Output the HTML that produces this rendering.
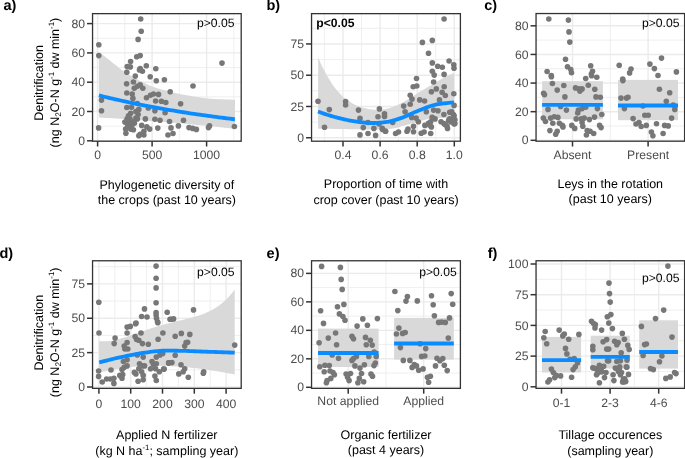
<!DOCTYPE html>
<html><head><meta charset="utf-8"><style>
html,body{margin:0;padding:0;background:#fff;}
body{width:685px;height:458px;overflow:hidden;}
svg{display:block;will-change:transform;}
text{font-family:"Liberation Sans", sans-serif;text-rendering:geometricPrecision;}
.tl{font-size:12.2px;fill:#4d4d4d;}
.ti{font-size:12.5px;fill:#000;}
.pl{font-size:14.5px;font-weight:bold;fill:#000;}
.pv{font-size:12.15px;fill:#000;}
</style></head><body>
<svg width="685" height="458" viewBox="0 0 685 458">
<g fill="#777777">
<rect x="92.55" y="13.64" width="148.65" height="127.56" fill="#fff"/>
<line x1="92.55" x2="241.2" y1="126.15" y2="126.15" stroke="#ebebeb" stroke-width="0.8"/>
<line x1="92.55" x2="241.2" y1="96.85" y2="96.85" stroke="#ebebeb" stroke-width="0.8"/>
<line x1="92.55" x2="241.2" y1="67.55" y2="67.55" stroke="#ebebeb" stroke-width="0.8"/>
<line x1="92.55" x2="241.2" y1="38.25" y2="38.25" stroke="#ebebeb" stroke-width="0.8"/>
<line y1="13.64" y2="141.2" x1="124.85" x2="124.85" stroke="#ebebeb" stroke-width="0.8"/>
<line y1="13.64" y2="141.2" x1="179.35" x2="179.35" stroke="#ebebeb" stroke-width="0.8"/>
<line y1="13.64" y2="141.2" x1="233.85" x2="233.85" stroke="#ebebeb" stroke-width="0.8"/>
<line x1="92.55" x2="241.2" y1="140.8" y2="140.8" stroke="#ebebeb" stroke-width="1.4"/>
<line x1="92.55" x2="241.2" y1="111.5" y2="111.5" stroke="#ebebeb" stroke-width="1.4"/>
<line x1="92.55" x2="241.2" y1="82.2" y2="82.2" stroke="#ebebeb" stroke-width="1.4"/>
<line x1="92.55" x2="241.2" y1="52.9" y2="52.9" stroke="#ebebeb" stroke-width="1.4"/>
<line x1="92.55" x2="241.2" y1="23.6" y2="23.6" stroke="#ebebeb" stroke-width="1.4"/>
<line y1="13.64" y2="141.2" x1="97.6" x2="97.6" stroke="#ebebeb" stroke-width="1.4"/>
<line y1="13.64" y2="141.2" x1="152.1" x2="152.1" stroke="#ebebeb" stroke-width="1.4"/>
<line y1="13.64" y2="141.2" x1="206.6" x2="206.6" stroke="#ebebeb" stroke-width="1.4"/>
<polygon points="98.9,52 99.58,52.51 100.44,53.16 101.47,53.94 102.63,54.81 103.9,55.77 105.25,56.8 106.66,57.89 108.1,59 109.6,60.19 111.19,61.49 112.87,62.88 114.61,64.32 116.41,65.78 118.25,67.23 120.12,68.65 122,70 123.93,71.31 125.94,72.63 128.01,73.94 130.1,75.23 132.19,76.48 134.26,77.69 136.27,78.83 138.2,79.9 140.05,80.89 141.84,81.82 143.58,82.69 145.29,83.51 146.99,84.28 148.68,85.02 150.38,85.72 152.1,86.4 153.83,87.04 155.55,87.63 157.26,88.17 158.98,88.68 160.71,89.17 162.45,89.65 164.21,90.12 166,90.6 167.74,91.07 169.4,91.53 171.03,91.97 172.7,92.4 174.47,92.83 176.4,93.27 178.56,93.73 181,94.2 183.77,94.72 186.84,95.27 190.13,95.85 193.58,96.44 197.13,97 200.71,97.53 204.25,98 207.7,98.4 211.27,98.72 215.12,98.98 219.09,99.19 223.02,99.36 226.74,99.5 230.08,99.61 232.89,99.71 235,99.8 235,128.86 231.51,128.47 228.02,128.09 224.53,127.71 221.04,127.34 217.55,126.97 214.06,126.61 210.57,126.26 207.08,125.9 203.59,125.56 200.1,125.22 196.61,124.88 193.12,124.55 189.63,124.22 186.14,123.9 182.65,123.58 179.16,123.27 175.67,122.97 172.18,122.67 168.69,122.37 165.21,122.08 161.72,121.79 158.23,121.51 154.74,121.24 151.25,120.97 147.76,120.7 144.27,120.44 140.78,120.19 137.29,119.94 133.8,119.69 130.31,119.45 126.82,119.22 123.33,118.99 119.84,118.76 116.35,118.54 112.86,118.33 109.37,118.12 105.88,117.91 102.39,117.71 98.9,117.52" fill="#d9d9d9"/>
<circle cx="140.7" cy="19" r="2.8"/>
<circle cx="141.2" cy="31.2" r="2.8"/>
<circle cx="138.1" cy="39.4" r="2.8"/>
<circle cx="98.8" cy="44.8" r="2.8"/>
<circle cx="98.8" cy="55.6" r="2.8"/>
<circle cx="136.7" cy="56.7" r="2.8"/>
<circle cx="140.2" cy="55.6" r="2.8"/>
<circle cx="130.6" cy="61.5" r="2.8"/>
<circle cx="127.2" cy="66.6" r="2.8"/>
<circle cx="130.3" cy="66.9" r="2.8"/>
<circle cx="146.3" cy="65.8" r="2.8"/>
<circle cx="140.2" cy="68.6" r="2.8"/>
<circle cx="142.4" cy="71.2" r="2.8"/>
<circle cx="139.5" cy="69.9" r="2.8"/>
<circle cx="155.8" cy="68.7" r="2.8"/>
<circle cx="126.8" cy="72.3" r="2.8"/>
<circle cx="135.3" cy="76.1" r="2.8"/>
<circle cx="150.2" cy="76.8" r="2.8"/>
<circle cx="164.4" cy="79.8" r="2.8"/>
<circle cx="222" cy="63.1" r="2.8"/>
<circle cx="156.3" cy="80.8" r="2.8"/>
<circle cx="126.6" cy="83.8" r="2.8"/>
<circle cx="133.4" cy="82" r="2.8"/>
<circle cx="134.3" cy="88.2" r="2.8"/>
<circle cx="137.5" cy="86.2" r="2.8"/>
<circle cx="140.2" cy="84.9" r="2.8"/>
<circle cx="142.8" cy="88.2" r="2.8"/>
<circle cx="126.8" cy="93" r="2.8"/>
<circle cx="132.2" cy="94" r="2.8"/>
<circle cx="132.9" cy="98.4" r="2.8"/>
<circle cx="146.5" cy="97.7" r="2.8"/>
<circle cx="150.5" cy="95.2" r="2.8"/>
<circle cx="153.4" cy="94" r="2.8"/>
<circle cx="158.5" cy="94.4" r="2.8"/>
<circle cx="170.2" cy="91.8" r="2.8"/>
<circle cx="101.5" cy="100.1" r="2.8"/>
<circle cx="101.5" cy="110.8" r="2.8"/>
<circle cx="155.6" cy="101" r="2.8"/>
<circle cx="161.4" cy="101.3" r="2.8"/>
<circle cx="165.8" cy="102.5" r="2.8"/>
<circle cx="137.3" cy="103.5" r="2.8"/>
<circle cx="126.8" cy="107.5" r="2.8"/>
<circle cx="131.5" cy="107.2" r="2.8"/>
<circle cx="138.8" cy="109.4" r="2.8"/>
<circle cx="148.3" cy="107.9" r="2.8"/>
<circle cx="154.9" cy="110.8" r="2.8"/>
<circle cx="165.1" cy="112.7" r="2.8"/>
<circle cx="130.7" cy="113.3" r="2.8"/>
<circle cx="128.5" cy="115.9" r="2.8"/>
<circle cx="138.1" cy="114.5" r="2.8"/>
<circle cx="135.9" cy="118.1" r="2.8"/>
<circle cx="145.4" cy="118.9" r="2.8"/>
<circle cx="154.9" cy="119.2" r="2.8"/>
<circle cx="160" cy="120.3" r="2.8"/>
<circle cx="169.5" cy="121.5" r="2.8"/>
<circle cx="124.9" cy="122.1" r="2.8"/>
<circle cx="129.3" cy="121.8" r="2.8"/>
<circle cx="133.7" cy="121.8" r="2.8"/>
<circle cx="127.8" cy="125.4" r="2.8"/>
<circle cx="132.2" cy="124.7" r="2.8"/>
<circle cx="141.7" cy="125.4" r="2.8"/>
<circle cx="146.8" cy="126.9" r="2.8"/>
<circle cx="149.7" cy="129.1" r="2.8"/>
<circle cx="98.6" cy="127.9" r="2.8"/>
<circle cx="125.6" cy="129.1" r="2.8"/>
<circle cx="133.4" cy="129.8" r="2.8"/>
<circle cx="157.8" cy="128.1" r="2.8"/>
<circle cx="171" cy="127.9" r="2.8"/>
<circle cx="125.9" cy="133.2" r="2.8"/>
<circle cx="143.9" cy="131.3" r="2.8"/>
<circle cx="140.2" cy="134.2" r="2.8"/>
<circle cx="138.8" cy="135.7" r="2.8"/>
<circle cx="143.9" cy="135" r="2.8"/>
<circle cx="168" cy="135" r="2.8"/>
<circle cx="193" cy="86" r="2.8"/>
<circle cx="180.6" cy="103.8" r="2.8"/>
<circle cx="183.5" cy="120.3" r="2.8"/>
<circle cx="178.4" cy="125.9" r="2.8"/>
<circle cx="189" cy="127.6" r="2.8"/>
<circle cx="192.7" cy="128.4" r="2.8"/>
<circle cx="196.4" cy="129.4" r="2.8"/>
<circle cx="209.5" cy="125.9" r="2.8"/>
<circle cx="208.5" cy="127.6" r="2.8"/>
<circle cx="234.4" cy="126.5" r="2.8"/>
<circle cx="173" cy="133.5" r="2.8"/>
<circle cx="135.9" cy="111.5" r="2.8"/>
<circle cx="137.3" cy="118.9" r="2.8"/>
<circle cx="134.4" cy="123.2" r="2.8"/>
<circle cx="130" cy="118.9" r="2.8"/>
<circle cx="127.1" cy="118.9" r="2.8"/>
<circle cx="130.7" cy="129.1" r="2.8"/>
<circle cx="128.5" cy="126.9" r="2.8"/>
<path d="M98.91,95.39 L101.63,96.07 L104.36,96.73 L107.08,97.39 L109.81,98.03 L112.53,98.67 L115.26,99.29 L117.98,99.91 L120.71,100.52 L123.43,101.12 L126.16,101.71 L128.88,102.29 L131.61,102.86 L134.33,103.42 L137.06,103.98 L139.78,104.53 L142.51,105.07 L145.23,105.6 L147.96,106.12 L150.68,106.64 L153.41,107.14 L156.13,107.64 L158.86,108.14 L161.58,108.62 L164.31,109.1 L167.03,109.57 L169.76,110.04 L172.48,110.49 L175.21,110.94 L177.93,111.39 L180.66,111.82 L183.38,112.25 L186.11,112.68 L188.83,113.1 L191.56,113.51 L194.28,113.91 L197.01,114.31 L199.73,114.71 L202.46,115.1 L205.18,115.48 L207.91,115.85 L210.63,116.22 L213.36,116.59 L216.08,116.95 L218.81,117.3 L221.53,117.65 L224.26,118 L226.98,118.34 L229.71,118.67 L232.43,119 L234.94,119.3" fill="none" stroke="#0a8cff" stroke-width="3.8"/>
<rect x="92.55" y="13.64" width="148.65" height="127.56" fill="none" stroke="#333333" stroke-width="1.3"/>
<line x1="87.05" x2="92.55" y1="140.8" y2="140.8" stroke="#333333" stroke-width="1.5"/>
<text x="84.95" y="144.9" text-anchor="end" class="tl">0</text>
<line x1="87.05" x2="92.55" y1="111.5" y2="111.5" stroke="#333333" stroke-width="1.5"/>
<text x="84.95" y="115.6" text-anchor="end" class="tl">20</text>
<line x1="87.05" x2="92.55" y1="82.2" y2="82.2" stroke="#333333" stroke-width="1.5"/>
<text x="84.95" y="86.3" text-anchor="end" class="tl">40</text>
<line x1="87.05" x2="92.55" y1="52.9" y2="52.9" stroke="#333333" stroke-width="1.5"/>
<text x="84.95" y="57" text-anchor="end" class="tl">60</text>
<line x1="87.05" x2="92.55" y1="23.6" y2="23.6" stroke="#333333" stroke-width="1.5"/>
<text x="84.95" y="27.7" text-anchor="end" class="tl">80</text>
<line y1="141.2" y2="146.5" x1="97.6" x2="97.6" stroke="#333333" stroke-width="1.5"/>
<text x="97.6" y="159.4" text-anchor="middle" class="tl">0</text>
<line y1="141.2" y2="146.5" x1="152.1" x2="152.1" stroke="#333333" stroke-width="1.5"/>
<text x="152.1" y="159.4" text-anchor="middle" class="tl">500</text>
<line y1="141.2" y2="146.5" x1="206.6" x2="206.6" stroke="#333333" stroke-width="1.5"/>
<text x="206.6" y="159.4" text-anchor="middle" class="tl">1000</text>
<rect x="311.55" y="13.64" width="148.85" height="127.56" fill="#fff"/>
<line x1="311.55" x2="460.4" y1="122.12" y2="122.12" stroke="#ebebeb" stroke-width="0.8"/>
<line x1="311.55" x2="460.4" y1="90.85" y2="90.85" stroke="#ebebeb" stroke-width="0.8"/>
<line x1="311.55" x2="460.4" y1="59.58" y2="59.58" stroke="#ebebeb" stroke-width="0.8"/>
<line x1="311.55" x2="460.4" y1="28.31" y2="28.31" stroke="#ebebeb" stroke-width="0.8"/>
<line y1="13.64" y2="141.2" x1="324.45" x2="324.45" stroke="#ebebeb" stroke-width="0.8"/>
<line y1="13.64" y2="141.2" x1="361.55" x2="361.55" stroke="#ebebeb" stroke-width="0.8"/>
<line y1="13.64" y2="141.2" x1="398.65" x2="398.65" stroke="#ebebeb" stroke-width="0.8"/>
<line y1="13.64" y2="141.2" x1="435.75" x2="435.75" stroke="#ebebeb" stroke-width="0.8"/>
<line x1="311.55" x2="460.4" y1="137.75" y2="137.75" stroke="#ebebeb" stroke-width="1.4"/>
<line x1="311.55" x2="460.4" y1="106.48" y2="106.48" stroke="#ebebeb" stroke-width="1.4"/>
<line x1="311.55" x2="460.4" y1="75.22" y2="75.22" stroke="#ebebeb" stroke-width="1.4"/>
<line x1="311.55" x2="460.4" y1="43.95" y2="43.95" stroke="#ebebeb" stroke-width="1.4"/>
<line y1="13.64" y2="141.2" x1="343" x2="343" stroke="#ebebeb" stroke-width="1.4"/>
<line y1="13.64" y2="141.2" x1="380.1" x2="380.1" stroke="#ebebeb" stroke-width="1.4"/>
<line y1="13.64" y2="141.2" x1="417.2" x2="417.2" stroke="#ebebeb" stroke-width="1.4"/>
<line y1="13.64" y2="141.2" x1="454.3" x2="454.3" stroke="#ebebeb" stroke-width="1.4"/>
<polygon points="318.2,57.2 318.49,57.89 318.86,58.8 319.3,59.89 319.8,61.1 320.34,62.39 320.91,63.72 321.5,65.04 322.1,66.3 322.72,67.55 323.38,68.84 324.08,70.17 324.79,71.51 325.53,72.85 326.26,74.17 326.99,75.46 327.7,76.7 328.4,77.91 329.1,79.1 329.8,80.28 330.51,81.44 331.21,82.56 331.91,83.65 332.6,84.7 333.3,85.7 333.99,86.65 334.68,87.54 335.37,88.39 336.05,89.21 336.73,90 337.42,90.78 338.11,91.54 338.8,92.3 339.46,93.04 340.06,93.74 340.65,94.41 341.25,95.07 341.89,95.73 342.61,96.42 343.44,97.14 344.4,97.9 345.52,98.74 346.79,99.65 348.16,100.61 349.6,101.58 351.09,102.53 352.59,103.44 354.07,104.27 355.5,105 356.9,105.63 358.3,106.2 359.7,106.71 361.1,107.16 362.5,107.57 363.9,107.94 365.3,108.28 366.7,108.6 368.1,108.89 369.51,109.15 370.91,109.38 372.32,109.57 373.72,109.72 375.1,109.83 376.46,109.89 377.8,109.9 379.13,109.85 380.45,109.75 381.76,109.59 383.06,109.39 384.32,109.17 385.56,108.92 386.75,108.66 387.9,108.4 388.98,108.14 390.01,107.86 390.99,107.56 391.94,107.25 392.87,106.92 393.8,106.57 394.74,106.19 395.7,105.8 396.68,105.38 397.67,104.93 398.66,104.46 399.65,103.97 400.64,103.47 401.63,102.95 402.62,102.43 403.6,101.9 404.58,101.36 405.55,100.81 406.53,100.25 407.5,99.68 408.47,99.1 409.45,98.51 410.42,97.91 411.4,97.3 412.38,96.67 413.37,96.03 414.36,95.37 415.35,94.7 416.34,94.03 417.33,93.37 418.32,92.73 419.3,92.1 420.28,91.5 421.25,90.91 422.23,90.33 423.2,89.76 424.17,89.2 425.15,88.64 426.12,88.07 427.1,87.5 428.08,86.92 429.07,86.35 430.06,85.78 431.05,85.2 432.04,84.62 433.03,84.05 434.02,83.48 435,82.9 435.96,82.33 436.88,81.77 437.78,81.21 438.69,80.65 439.63,80.08 440.61,79.51 441.66,78.91 442.8,78.3 444.11,77.63 445.62,76.88 447.24,76.1 448.89,75.31 450.47,74.56 451.91,73.89 453.11,73.32 454,72.9 454,118.4 453.11,118.37 451.91,118.32 450.47,118.26 448.89,118.19 447.24,118.13 445.62,118.07 444.11,118.03 442.8,118 441.66,117.98 440.61,117.97 439.63,117.96 438.69,117.96 437.78,117.97 436.88,117.99 435.96,118.04 435,118.1 434.02,118.18 433.03,118.28 432.04,118.4 431.05,118.53 430.06,118.67 429.07,118.83 428.08,119.01 427.1,119.2 426.12,119.41 425.15,119.64 424.17,119.89 423.2,120.15 422.23,120.42 421.25,120.69 420.28,120.97 419.3,121.25 418.32,121.53 417.34,121.81 416.37,122.1 415.39,122.4 414.4,122.7 413.41,123 412.41,123.3 411.4,123.6 410.37,123.9 409.33,124.21 408.27,124.53 407.21,124.84 406.14,125.16 405.08,125.46 404.03,125.76 403,126.05 401.96,126.33 400.91,126.62 399.86,126.9 398.82,127.18 397.8,127.44 396.81,127.68 395.88,127.91 395,128.1 394.22,128.26 393.54,128.39 392.93,128.5 392.34,128.59 391.75,128.67 391.1,128.74 390.36,128.82 389.5,128.9 388.51,128.99 387.42,129.08 386.25,129.16 385.03,129.24 383.77,129.32 382.5,129.39 381.24,129.45 380,129.5 378.79,129.54 377.61,129.57 376.42,129.59 375.22,129.61 373.99,129.61 372.72,129.61 371.4,129.61 370,129.6 368.55,129.58 367.05,129.55 365.52,129.52 363.94,129.47 362.3,129.43 360.6,129.38 358.84,129.34 357,129.3 355.1,129.26 353.15,129.23 351.14,129.19 349.06,129.16 346.92,129.12 344.7,129.08 342.39,129.04 340,129 337.34,128.95 334.34,128.9 331.15,128.84 327.94,128.78 324.86,128.73 322.07,128.67 319.73,128.63 318,128.6" fill="#d9d9d9"/>
<circle cx="444.1" cy="19" r="2.8"/>
<circle cx="422.4" cy="42.4" r="2.8"/>
<circle cx="432.3" cy="40.4" r="2.8"/>
<circle cx="428.5" cy="53.3" r="2.8"/>
<circle cx="449.1" cy="61" r="2.8"/>
<circle cx="432.3" cy="62.9" r="2.8"/>
<circle cx="437.7" cy="66.2" r="2.8"/>
<circle cx="442.3" cy="67.2" r="2.8"/>
<circle cx="453.8" cy="64.8" r="2.8"/>
<circle cx="454" cy="68.3" r="2.8"/>
<circle cx="432.3" cy="71.2" r="2.8"/>
<circle cx="434.2" cy="75.1" r="2.8"/>
<circle cx="444.1" cy="74.4" r="2.8"/>
<circle cx="416.5" cy="78.5" r="2.8"/>
<circle cx="318" cy="101.3" r="2.8"/>
<circle cx="329.3" cy="109.6" r="2.8"/>
<circle cx="345.6" cy="101.6" r="2.8"/>
<circle cx="345.6" cy="105" r="2.8"/>
<circle cx="324.5" cy="127.3" r="2.8"/>
<circle cx="358.5" cy="110.1" r="2.8"/>
<circle cx="360" cy="118.4" r="2.8"/>
<circle cx="363.3" cy="127.6" r="2.8"/>
<circle cx="360" cy="134.9" r="2.8"/>
<circle cx="368" cy="133.5" r="2.8"/>
<circle cx="368" cy="122.5" r="2.8"/>
<circle cx="373.9" cy="128.4" r="2.8"/>
<circle cx="375.6" cy="135.4" r="2.8"/>
<circle cx="379.4" cy="108.9" r="2.8"/>
<circle cx="378" cy="116.7" r="2.8"/>
<circle cx="384.5" cy="113.7" r="2.8"/>
<circle cx="384.5" cy="116.4" r="2.8"/>
<circle cx="379" cy="124" r="2.8"/>
<circle cx="382.6" cy="129.4" r="2.8"/>
<circle cx="385.6" cy="131.3" r="2.8"/>
<circle cx="413.2" cy="86.7" r="2.8"/>
<circle cx="416.8" cy="86" r="2.8"/>
<circle cx="433.6" cy="82" r="2.8"/>
<circle cx="436.3" cy="88.9" r="2.8"/>
<circle cx="431.4" cy="91.8" r="2.8"/>
<circle cx="444.2" cy="86.7" r="2.8"/>
<circle cx="442.1" cy="92.3" r="2.8"/>
<circle cx="445.3" cy="95.5" r="2.8"/>
<circle cx="453.8" cy="93.7" r="2.8"/>
<circle cx="410.2" cy="95.2" r="2.8"/>
<circle cx="412" cy="99.1" r="2.8"/>
<circle cx="419.7" cy="99.9" r="2.8"/>
<circle cx="424.6" cy="101" r="2.8"/>
<circle cx="410.2" cy="104.2" r="2.8"/>
<circle cx="403.7" cy="106.1" r="2.8"/>
<circle cx="439.5" cy="99.9" r="2.8"/>
<circle cx="454.1" cy="105.4" r="2.8"/>
<circle cx="405.1" cy="111.8" r="2.8"/>
<circle cx="426.3" cy="111.8" r="2.8"/>
<circle cx="433.6" cy="110.1" r="2.8"/>
<circle cx="438" cy="110.8" r="2.8"/>
<circle cx="443.9" cy="114.5" r="2.8"/>
<circle cx="449.7" cy="112.3" r="2.8"/>
<circle cx="453.4" cy="114.5" r="2.8"/>
<circle cx="411.7" cy="117.4" r="2.8"/>
<circle cx="416.1" cy="118.1" r="2.8"/>
<circle cx="432.2" cy="117.4" r="2.8"/>
<circle cx="435.1" cy="118.9" r="2.8"/>
<circle cx="418.3" cy="121.8" r="2.8"/>
<circle cx="430.7" cy="121.8" r="2.8"/>
<circle cx="441" cy="121.8" r="2.8"/>
<circle cx="449.7" cy="118.9" r="2.8"/>
<circle cx="453.4" cy="120.3" r="2.8"/>
<circle cx="392.7" cy="122.5" r="2.8"/>
<circle cx="454.1" cy="124" r="2.8"/>
<circle cx="424.9" cy="125.4" r="2.8"/>
<circle cx="428.5" cy="123.2" r="2.8"/>
<circle cx="413.5" cy="126.2" r="2.8"/>
<circle cx="431.4" cy="126.9" r="2.8"/>
<circle cx="445.3" cy="124.7" r="2.8"/>
<circle cx="447.5" cy="128.4" r="2.8"/>
<circle cx="408" cy="129.1" r="2.8"/>
<circle cx="407" cy="131.3" r="2.8"/>
<circle cx="413.5" cy="131.7" r="2.8"/>
<circle cx="385.4" cy="131.3" r="2.8"/>
<circle cx="395.6" cy="133.5" r="2.8"/>
<circle cx="398.5" cy="132" r="2.8"/>
<circle cx="421.2" cy="133.2" r="2.8"/>
<circle cx="424.1" cy="132" r="2.8"/>
<circle cx="430.7" cy="133.5" r="2.8"/>
<circle cx="382.2" cy="128.4" r="2.8"/>
<circle cx="451.7" cy="111.8" r="2.8"/>
<circle cx="454.1" cy="115.7" r="2.8"/>
<circle cx="454.9" cy="119.7" r="2.8"/>
<circle cx="451" cy="122" r="2.8"/>
<circle cx="448.6" cy="120.4" r="2.8"/>
<circle cx="443.9" cy="123.6" r="2.8"/>
<circle cx="447" cy="126" r="2.8"/>
<circle cx="454.9" cy="123.6" r="2.8"/>
<circle cx="429.7" cy="125.2" r="2.8"/>
<path d="M318,111.5 L318.7,111.75 L319.6,112.09 L320.68,112.49 L321.89,112.94 L323.19,113.41 L324.55,113.89 L325.94,114.36 L327.3,114.8 L328.69,115.22 L330.14,115.66 L331.66,116.1 L333.21,116.54 L334.79,116.97 L336.38,117.4 L337.95,117.81 L339.5,118.2 L341.03,118.58 L342.56,118.95 L344.1,119.31 L345.63,119.66 L347.17,119.99 L348.71,120.31 L350.25,120.62 L351.8,120.9 L353.38,121.17 L354.99,121.43 L356.62,121.67 L358.24,121.89 L359.85,122.1 L361.4,122.29 L362.89,122.46 L364.3,122.6 L365.61,122.72 L366.83,122.81 L367.99,122.89 L369.11,122.94 L370.2,122.98 L371.28,123 L372.37,123.01 L373.5,123 L374.66,122.98 L375.82,122.94 L376.99,122.88 L378.16,122.81 L379.32,122.72 L380.46,122.62 L381.59,122.52 L382.7,122.4 L383.76,122.29 L384.77,122.18 L385.75,122.06 L386.72,121.93 L387.71,121.78 L388.74,121.6 L389.83,121.37 L391,121.1 L392.26,120.78 L393.59,120.42 L394.98,120.03 L396.41,119.6 L397.86,119.14 L399.34,118.65 L400.82,118.14 L402.3,117.6 L403.78,117.02 L405.28,116.39 L406.8,115.73 L408.34,115.04 L409.88,114.34 L411.42,113.64 L412.96,112.96 L414.5,112.3 L416.07,111.65 L417.69,110.99 L419.33,110.32 L420.96,109.67 L422.56,109.04 L424.08,108.44 L425.51,107.89 L426.8,107.4 L427.94,106.97 L428.94,106.6 L429.84,106.27 L430.67,105.98 L431.47,105.72 L432.26,105.47 L433.1,105.24 L434,105 L434.93,104.78 L435.85,104.58 L436.77,104.4 L437.7,104.23 L438.67,104.07 L439.7,103.92 L440.8,103.76 L442,103.6 L443.39,103.42 L445,103.24 L446.73,103.05 L448.5,102.86 L450.2,102.69 L451.75,102.53 L453.05,102.4 L454,102.3" fill="none" stroke="#0a8cff" stroke-width="3.8"/>
<rect x="311.55" y="13.64" width="148.85" height="127.56" fill="none" stroke="#333333" stroke-width="1.3"/>
<line x1="306.05" x2="311.55" y1="137.75" y2="137.75" stroke="#333333" stroke-width="1.5"/>
<text x="303.95" y="141.85" text-anchor="end" class="tl">0</text>
<line x1="306.05" x2="311.55" y1="106.48" y2="106.48" stroke="#333333" stroke-width="1.5"/>
<text x="303.95" y="110.58" text-anchor="end" class="tl">25</text>
<line x1="306.05" x2="311.55" y1="75.22" y2="75.22" stroke="#333333" stroke-width="1.5"/>
<text x="303.95" y="79.31" text-anchor="end" class="tl">50</text>
<line x1="306.05" x2="311.55" y1="43.95" y2="43.95" stroke="#333333" stroke-width="1.5"/>
<text x="303.95" y="48.05" text-anchor="end" class="tl">75</text>
<line y1="141.2" y2="146.5" x1="343" x2="343" stroke="#333333" stroke-width="1.5"/>
<text x="343" y="159.4" text-anchor="middle" class="tl">0.4</text>
<line y1="141.2" y2="146.5" x1="380.1" x2="380.1" stroke="#333333" stroke-width="1.5"/>
<text x="380.1" y="159.4" text-anchor="middle" class="tl">0.6</text>
<line y1="141.2" y2="146.5" x1="417.2" x2="417.2" stroke="#333333" stroke-width="1.5"/>
<text x="417.2" y="159.4" text-anchor="middle" class="tl">0.8</text>
<line y1="141.2" y2="146.5" x1="454.3" x2="454.3" stroke="#333333" stroke-width="1.5"/>
<text x="454.3" y="159.4" text-anchor="middle" class="tl">1.0</text>
<rect x="536.05" y="13.54" width="148.55" height="127.66" fill="#fff"/>
<line x1="536.05" x2="684.6" y1="125.99" y2="125.99" stroke="#ebebeb" stroke-width="0.8"/>
<line x1="536.05" x2="684.6" y1="97.37" y2="97.37" stroke="#ebebeb" stroke-width="0.8"/>
<line x1="536.05" x2="684.6" y1="68.75" y2="68.75" stroke="#ebebeb" stroke-width="0.8"/>
<line x1="536.05" x2="684.6" y1="40.13" y2="40.13" stroke="#ebebeb" stroke-width="0.8"/>
<line y1="13.54" y2="141.2" x1="610.3" x2="610.3" stroke="#ebebeb" stroke-width="0.8"/>
<line x1="536.05" x2="684.6" y1="140.3" y2="140.3" stroke="#ebebeb" stroke-width="1.4"/>
<line x1="536.05" x2="684.6" y1="111.68" y2="111.68" stroke="#ebebeb" stroke-width="1.4"/>
<line x1="536.05" x2="684.6" y1="83.06" y2="83.06" stroke="#ebebeb" stroke-width="1.4"/>
<line x1="536.05" x2="684.6" y1="54.44" y2="54.44" stroke="#ebebeb" stroke-width="1.4"/>
<line x1="536.05" x2="684.6" y1="25.82" y2="25.82" stroke="#ebebeb" stroke-width="1.4"/>
<line y1="13.54" y2="141.2" x1="572.5" x2="572.5" stroke="#ebebeb" stroke-width="1.4"/>
<line y1="13.54" y2="141.2" x1="648.1" x2="648.1" stroke="#ebebeb" stroke-width="1.4"/>
<rect x="542.1" y="81.2" width="60.8" height="38.1" fill="#d9d9d9"/>
<rect x="618" y="79.9" width="60" height="40.3" fill="#d9d9d9"/>
<circle cx="548.8" cy="19" r="2.8"/>
<circle cx="568.4" cy="20.1" r="2.8"/>
<circle cx="569" cy="31.9" r="2.8"/>
<circle cx="569.8" cy="42.1" r="2.8"/>
<circle cx="565.5" cy="59.2" r="2.8"/>
<circle cx="567.5" cy="66.7" r="2.8"/>
<circle cx="570.8" cy="69.5" r="2.8"/>
<circle cx="571.5" cy="72.7" r="2.8"/>
<circle cx="547.1" cy="71.5" r="2.8"/>
<circle cx="551.3" cy="75.5" r="2.8"/>
<circle cx="590.7" cy="65.8" r="2.8"/>
<circle cx="592.5" cy="71.2" r="2.8"/>
<circle cx="591.4" cy="74.1" r="2.8"/>
<circle cx="596.8" cy="77.2" r="2.8"/>
<circle cx="551.4" cy="76.8" r="2.8"/>
<circle cx="552.4" cy="83.5" r="2.8"/>
<circle cx="563.8" cy="85.5" r="2.8"/>
<circle cx="557.2" cy="90.1" r="2.8"/>
<circle cx="543.6" cy="93.3" r="2.8"/>
<circle cx="544.5" cy="94.7" r="2.8"/>
<circle cx="564.9" cy="96.9" r="2.8"/>
<circle cx="575.5" cy="87.9" r="2.8"/>
<circle cx="579.1" cy="88.9" r="2.8"/>
<circle cx="582.1" cy="88.9" r="2.8"/>
<circle cx="579.9" cy="91.1" r="2.8"/>
<circle cx="585.7" cy="78.5" r="2.8"/>
<circle cx="591.6" cy="75.8" r="2.8"/>
<circle cx="588.3" cy="85.2" r="2.8"/>
<circle cx="594.8" cy="89.3" r="2.8"/>
<circle cx="596" cy="96.9" r="2.8"/>
<circle cx="600.3" cy="97.2" r="2.8"/>
<circle cx="548" cy="109.4" r="2.8"/>
<circle cx="560.6" cy="106.4" r="2.8"/>
<circle cx="566.4" cy="110.1" r="2.8"/>
<circle cx="578.4" cy="110.1" r="2.8"/>
<circle cx="582.1" cy="108.6" r="2.8"/>
<circle cx="585.7" cy="107.2" r="2.8"/>
<circle cx="597.4" cy="108.6" r="2.8"/>
<circle cx="577.7" cy="113" r="2.8"/>
<circle cx="601.8" cy="114.5" r="2.8"/>
<circle cx="543.3" cy="118.1" r="2.8"/>
<circle cx="545.5" cy="121.5" r="2.8"/>
<circle cx="550.6" cy="118.1" r="2.8"/>
<circle cx="554.3" cy="116.7" r="2.8"/>
<circle cx="557.9" cy="117.4" r="2.8"/>
<circle cx="552.8" cy="123.2" r="2.8"/>
<circle cx="559.4" cy="123.2" r="2.8"/>
<circle cx="562.3" cy="125.4" r="2.8"/>
<circle cx="563" cy="126.9" r="2.8"/>
<circle cx="576.2" cy="118.9" r="2.8"/>
<circle cx="581.3" cy="118.9" r="2.8"/>
<circle cx="584.2" cy="118.1" r="2.8"/>
<circle cx="589.4" cy="119.6" r="2.8"/>
<circle cx="594.5" cy="117.1" r="2.8"/>
<circle cx="582.1" cy="122.5" r="2.8"/>
<circle cx="582.8" cy="126.2" r="2.8"/>
<circle cx="571.8" cy="125.4" r="2.8"/>
<circle cx="574.7" cy="128.4" r="2.8"/>
<circle cx="599.6" cy="125.4" r="2.8"/>
<circle cx="601.1" cy="127.6" r="2.8"/>
<circle cx="549.9" cy="130.6" r="2.8"/>
<circle cx="557.2" cy="131.3" r="2.8"/>
<circle cx="555.7" cy="134.2" r="2.8"/>
<circle cx="587.2" cy="130.6" r="2.8"/>
<circle cx="590.1" cy="131.3" r="2.8"/>
<circle cx="593.7" cy="133.5" r="2.8"/>
<circle cx="586.4" cy="135" r="2.8"/>
<circle cx="619.2" cy="65.2" r="2.8"/>
<circle cx="631" cy="69" r="2.8"/>
<circle cx="629.6" cy="72.9" r="2.8"/>
<circle cx="649.9" cy="64.1" r="2.8"/>
<circle cx="661.5" cy="58.1" r="2.8"/>
<circle cx="654.4" cy="68.6" r="2.8"/>
<circle cx="658" cy="75.5" r="2.8"/>
<circle cx="676.4" cy="71.9" r="2.8"/>
<circle cx="622.7" cy="79" r="2.8"/>
<circle cx="622.9" cy="80.6" r="2.8"/>
<circle cx="659.4" cy="89.2" r="2.8"/>
<circle cx="669.7" cy="92.8" r="2.8"/>
<circle cx="621" cy="98.1" r="2.8"/>
<circle cx="626.5" cy="98.1" r="2.8"/>
<circle cx="628" cy="97.2" r="2.8"/>
<circle cx="666.3" cy="101.3" r="2.8"/>
<circle cx="673.3" cy="105" r="2.8"/>
<circle cx="674.8" cy="109.4" r="2.8"/>
<circle cx="642.9" cy="106" r="2.8"/>
<circle cx="624.4" cy="108.6" r="2.8"/>
<circle cx="644.8" cy="115.2" r="2.8"/>
<circle cx="648.2" cy="115.2" r="2.8"/>
<circle cx="671.6" cy="118.1" r="2.8"/>
<circle cx="633.1" cy="118.6" r="2.8"/>
<circle cx="636" cy="124" r="2.8"/>
<circle cx="639" cy="122.5" r="2.8"/>
<circle cx="641.2" cy="126.5" r="2.8"/>
<circle cx="646.3" cy="125.4" r="2.8"/>
<circle cx="656.5" cy="123.7" r="2.8"/>
<circle cx="664.6" cy="125.4" r="2.8"/>
<circle cx="668.2" cy="125.9" r="2.8"/>
<circle cx="651.4" cy="132" r="2.8"/>
<circle cx="652.9" cy="135.7" r="2.8"/>
<circle cx="663.1" cy="133.5" r="2.8"/>
<line x1="542.1" x2="602.9" y1="104.9" y2="104.9" stroke="#0a8cff" stroke-width="3.8"/>
<line x1="618" x2="678" y1="105.5" y2="105.5" stroke="#0a8cff" stroke-width="3.8"/>
<rect x="536.05" y="13.54" width="148.55" height="127.66" fill="none" stroke="#333333" stroke-width="1.3"/>
<line x1="530.55" x2="536.05" y1="140.3" y2="140.3" stroke="#333333" stroke-width="1.5"/>
<text x="528.45" y="144.4" text-anchor="end" class="tl">0</text>
<line x1="530.55" x2="536.05" y1="111.68" y2="111.68" stroke="#333333" stroke-width="1.5"/>
<text x="528.45" y="115.78" text-anchor="end" class="tl">20</text>
<line x1="530.55" x2="536.05" y1="83.06" y2="83.06" stroke="#333333" stroke-width="1.5"/>
<text x="528.45" y="87.16" text-anchor="end" class="tl">40</text>
<line x1="530.55" x2="536.05" y1="54.44" y2="54.44" stroke="#333333" stroke-width="1.5"/>
<text x="528.45" y="58.54" text-anchor="end" class="tl">60</text>
<line x1="530.55" x2="536.05" y1="25.82" y2="25.82" stroke="#333333" stroke-width="1.5"/>
<text x="528.45" y="29.92" text-anchor="end" class="tl">80</text>
<line y1="141.2" y2="146.5" x1="572.5" x2="572.5" stroke="#333333" stroke-width="1.5"/>
<text x="572.5" y="159.4" text-anchor="middle" class="tl">Absent</text>
<line y1="141.2" y2="146.5" x1="648.1" x2="648.1" stroke="#333333" stroke-width="1.5"/>
<text x="648.1" y="159.4" text-anchor="middle" class="tl">Present</text>
<rect x="92.55" y="260.77" width="148.65" height="127.59" fill="#fff"/>
<line x1="92.55" x2="241.2" y1="369.81" y2="369.81" stroke="#ebebeb" stroke-width="0.8"/>
<line x1="92.55" x2="241.2" y1="335.44" y2="335.44" stroke="#ebebeb" stroke-width="0.8"/>
<line x1="92.55" x2="241.2" y1="301.06" y2="301.06" stroke="#ebebeb" stroke-width="0.8"/>
<line x1="92.55" x2="241.2" y1="266.69" y2="266.69" stroke="#ebebeb" stroke-width="0.8"/>
<line y1="260.77" y2="388.36" x1="114.8" x2="114.8" stroke="#ebebeb" stroke-width="0.8"/>
<line y1="260.77" y2="388.36" x1="146.6" x2="146.6" stroke="#ebebeb" stroke-width="0.8"/>
<line y1="260.77" y2="388.36" x1="178.4" x2="178.4" stroke="#ebebeb" stroke-width="0.8"/>
<line y1="260.77" y2="388.36" x1="210.2" x2="210.2" stroke="#ebebeb" stroke-width="0.8"/>
<line x1="92.55" x2="241.2" y1="387" y2="387" stroke="#ebebeb" stroke-width="1.4"/>
<line x1="92.55" x2="241.2" y1="352.62" y2="352.62" stroke="#ebebeb" stroke-width="1.4"/>
<line x1="92.55" x2="241.2" y1="318.25" y2="318.25" stroke="#ebebeb" stroke-width="1.4"/>
<line x1="92.55" x2="241.2" y1="283.88" y2="283.88" stroke="#ebebeb" stroke-width="1.4"/>
<line y1="260.77" y2="388.36" x1="98.9" x2="98.9" stroke="#ebebeb" stroke-width="1.4"/>
<line y1="260.77" y2="388.36" x1="130.7" x2="130.7" stroke="#ebebeb" stroke-width="1.4"/>
<line y1="260.77" y2="388.36" x1="162.5" x2="162.5" stroke="#ebebeb" stroke-width="1.4"/>
<line y1="260.77" y2="388.36" x1="194.3" x2="194.3" stroke="#ebebeb" stroke-width="1.4"/>
<line y1="260.77" y2="388.36" x1="226.1" x2="226.1" stroke="#ebebeb" stroke-width="1.4"/>
<polygon points="99,341.13 102.48,341.36 105.96,341.28 109.44,340.94 112.92,340.38 116.4,339.64 119.88,338.75 123.36,337.74 126.84,336.64 130.32,335.48 133.79,334.28 137.27,333.06 140.75,331.84 144.23,330.63 147.71,329.45 151.19,328.31 154.67,327.21 158.15,326.15 161.63,325.15 165.11,324.19 168.59,323.28 172.07,322.41 175.55,321.57 179.03,320.75 182.51,319.92 185.99,319.09 189.47,318.22 192.95,317.29 196.43,316.28 199.91,315.16 203.38,313.89 206.86,312.46 210.34,310.81 213.82,308.91 217.3,306.72 220.78,304.2 224.26,301.29 227.74,297.95 231.22,294.12 234.7,289.76 234.7,374.46 231.22,373.8 227.74,373.16 224.26,372.53 220.78,371.93 217.3,371.34 213.82,370.78 210.34,370.24 206.86,369.72 203.38,369.23 199.91,368.77 196.43,368.33 192.95,367.93 189.47,367.55 185.99,367.21 182.51,366.9 179.03,366.62 175.55,366.38 172.07,366.18 168.59,366.02 165.11,365.89 161.63,365.81 158.15,365.76 154.67,365.76 151.19,365.81 147.71,365.9 144.23,366.03 140.75,366.22 137.27,366.45 133.79,366.73 130.32,367.07 126.84,367.46 123.36,367.9 119.88,368.4 116.4,368.95 112.92,369.57 109.44,370.24 105.96,370.97 102.48,371.76 99,372.62" fill="#d9d9d9"/>
<circle cx="156.1" cy="266.1" r="2.8"/>
<circle cx="156.1" cy="278.2" r="2.8"/>
<circle cx="156.1" cy="287.9" r="2.8"/>
<circle cx="98.8" cy="302.3" r="2.8"/>
<circle cx="156.1" cy="302.8" r="2.8"/>
<circle cx="144.5" cy="308.9" r="2.8"/>
<circle cx="156.1" cy="312.5" r="2.8"/>
<circle cx="156.1" cy="315" r="2.8"/>
<circle cx="156.5" cy="318.2" r="2.8"/>
<circle cx="157.5" cy="321.7" r="2.8"/>
<circle cx="141.6" cy="316.5" r="2.8"/>
<circle cx="147" cy="317" r="2.8"/>
<circle cx="167.2" cy="312.2" r="2.8"/>
<circle cx="170" cy="319.3" r="2.8"/>
<circle cx="136" cy="323.1" r="2.8"/>
<circle cx="171.2" cy="319.3" r="2.8"/>
<circle cx="173.6" cy="318.9" r="2.8"/>
<circle cx="193.5" cy="309.9" r="2.8"/>
<circle cx="135.6" cy="323.8" r="2.8"/>
<circle cx="127.1" cy="327.1" r="2.8"/>
<circle cx="130.3" cy="326.4" r="2.8"/>
<circle cx="157.8" cy="322.7" r="2.8"/>
<circle cx="99" cy="333" r="2.8"/>
<circle cx="127.1" cy="333" r="2.8"/>
<circle cx="141" cy="333" r="2.8"/>
<circle cx="162.9" cy="333" r="2.8"/>
<circle cx="115.1" cy="338.1" r="2.8"/>
<circle cx="114.2" cy="343.6" r="2.8"/>
<circle cx="135.1" cy="336.6" r="2.8"/>
<circle cx="136.6" cy="339.5" r="2.8"/>
<circle cx="138.8" cy="340.3" r="2.8"/>
<circle cx="142.4" cy="343.6" r="2.8"/>
<circle cx="148.3" cy="344.2" r="2.8"/>
<circle cx="158.1" cy="339.3" r="2.8"/>
<circle cx="127.1" cy="342.5" r="2.8"/>
<circle cx="124.2" cy="346.1" r="2.8"/>
<circle cx="124.9" cy="349" r="2.8"/>
<circle cx="127.8" cy="349" r="2.8"/>
<circle cx="137.3" cy="354.9" r="2.8"/>
<circle cx="143.2" cy="357.1" r="2.8"/>
<circle cx="156.3" cy="357.1" r="2.8"/>
<circle cx="160" cy="354.9" r="2.8"/>
<circle cx="127.1" cy="359.7" r="2.8"/>
<circle cx="123.4" cy="361.5" r="2.8"/>
<circle cx="168.8" cy="362.9" r="2.8"/>
<circle cx="127.1" cy="365.9" r="2.8"/>
<circle cx="124.2" cy="367.3" r="2.8"/>
<circle cx="122" cy="369.5" r="2.8"/>
<circle cx="139.5" cy="363.7" r="2.8"/>
<circle cx="142.4" cy="365.9" r="2.8"/>
<circle cx="144.6" cy="365.9" r="2.8"/>
<circle cx="152" cy="361.5" r="2.8"/>
<circle cx="153.4" cy="364.4" r="2.8"/>
<circle cx="156.3" cy="363.7" r="2.8"/>
<circle cx="111" cy="370" r="2.8"/>
<circle cx="98.6" cy="371" r="2.8"/>
<circle cx="98.6" cy="376.4" r="2.8"/>
<circle cx="138.8" cy="368.8" r="2.8"/>
<circle cx="141.7" cy="371.7" r="2.8"/>
<circle cx="143.2" cy="375.4" r="2.8"/>
<circle cx="134.4" cy="372.4" r="2.8"/>
<circle cx="135.9" cy="373.9" r="2.8"/>
<circle cx="150.5" cy="368.8" r="2.8"/>
<circle cx="155.6" cy="368.8" r="2.8"/>
<circle cx="163.6" cy="369.1" r="2.8"/>
<circle cx="159.3" cy="371.7" r="2.8"/>
<circle cx="154.9" cy="376.1" r="2.8"/>
<circle cx="156.3" cy="380.5" r="2.8"/>
<circle cx="119.8" cy="375.4" r="2.8"/>
<circle cx="122.7" cy="374.6" r="2.8"/>
<circle cx="122" cy="378.3" r="2.8"/>
<circle cx="102.2" cy="382" r="2.8"/>
<circle cx="106.6" cy="379" r="2.8"/>
<circle cx="110.3" cy="379" r="2.8"/>
<circle cx="113.9" cy="378.3" r="2.8"/>
<circle cx="113.9" cy="383.4" r="2.8"/>
<circle cx="138.1" cy="381.2" r="2.8"/>
<circle cx="143.2" cy="379.7" r="2.8"/>
<circle cx="175.2" cy="336.2" r="2.8"/>
<circle cx="181.3" cy="333.4" r="2.8"/>
<circle cx="189.8" cy="334.4" r="2.8"/>
<circle cx="186.1" cy="342.5" r="2.8"/>
<circle cx="187.6" cy="342.2" r="2.8"/>
<circle cx="184.7" cy="346.1" r="2.8"/>
<circle cx="234.7" cy="345.1" r="2.8"/>
<circle cx="175.2" cy="355.3" r="2.8"/>
<circle cx="162.7" cy="353.4" r="2.8"/>
<circle cx="168.6" cy="362.9" r="2.8"/>
<circle cx="171.9" cy="362.6" r="2.8"/>
<circle cx="181" cy="364.7" r="2.8"/>
<circle cx="184.7" cy="368.8" r="2.8"/>
<circle cx="183.2" cy="371.7" r="2.8"/>
<circle cx="178.8" cy="373.9" r="2.8"/>
<circle cx="164.2" cy="369.1" r="2.8"/>
<circle cx="203.7" cy="371.7" r="2.8"/>
<circle cx="203.3" cy="373.3" r="2.8"/>
<circle cx="188.3" cy="377.3" r="2.8"/>
<path d="M99.2,362.4 L100.48,362.08 L102.16,361.65 L104.15,361.14 L106.38,360.57 L108.77,359.97 L111.26,359.36 L113.76,358.76 L116.2,358.2 L118.66,357.65 L121.26,357.07 L123.94,356.49 L126.67,355.9 L129.43,355.33 L132.16,354.78 L134.83,354.27 L137.4,353.8 L139.94,353.37 L142.5,352.97 L145.06,352.6 L147.56,352.26 L149.99,351.94 L152.29,351.66 L154.44,351.41 L156.4,351.2 L158.08,351.03 L159.49,350.91 L160.71,350.83 L161.83,350.77 L162.93,350.74 L164.1,350.73 L165.43,350.71 L167,350.7 L168.82,350.69 L170.8,350.69 L172.91,350.71 L175.11,350.73 L177.35,350.76 L179.61,350.81 L181.84,350.85 L184,350.9 L186.12,350.96 L188.23,351.02 L190.34,351.1 L192.45,351.17 L194.56,351.26 L196.67,351.34 L198.78,351.42 L200.9,351.5 L203.02,351.57 L205.15,351.65 L207.28,351.73 L209.41,351.8 L211.54,351.88 L213.66,351.95 L215.78,352.02 L217.9,352.1 L220.12,352.18 L222.51,352.26 L224.95,352.35 L227.36,352.44 L229.64,352.52 L231.69,352.59 L233.41,352.65 L234.7,352.7" fill="none" stroke="#0a8cff" stroke-width="3.8"/>
<rect x="92.55" y="260.77" width="148.65" height="127.59" fill="none" stroke="#333333" stroke-width="1.3"/>
<line x1="87.05" x2="92.55" y1="387" y2="387" stroke="#333333" stroke-width="1.5"/>
<text x="84.95" y="391.1" text-anchor="end" class="tl">0</text>
<line x1="87.05" x2="92.55" y1="352.62" y2="352.62" stroke="#333333" stroke-width="1.5"/>
<text x="84.95" y="356.73" text-anchor="end" class="tl">25</text>
<line x1="87.05" x2="92.55" y1="318.25" y2="318.25" stroke="#333333" stroke-width="1.5"/>
<text x="84.95" y="322.35" text-anchor="end" class="tl">50</text>
<line x1="87.05" x2="92.55" y1="283.88" y2="283.88" stroke="#333333" stroke-width="1.5"/>
<text x="84.95" y="287.98" text-anchor="end" class="tl">75</text>
<line y1="388.36" y2="393.66" x1="98.9" x2="98.9" stroke="#333333" stroke-width="1.5"/>
<text x="98.9" y="407.56" text-anchor="middle" class="tl">0</text>
<line y1="388.36" y2="393.66" x1="130.7" x2="130.7" stroke="#333333" stroke-width="1.5"/>
<text x="130.7" y="407.56" text-anchor="middle" class="tl">100</text>
<line y1="388.36" y2="393.66" x1="162.5" x2="162.5" stroke="#333333" stroke-width="1.5"/>
<text x="162.5" y="407.56" text-anchor="middle" class="tl">200</text>
<line y1="388.36" y2="393.66" x1="194.3" x2="194.3" stroke="#333333" stroke-width="1.5"/>
<text x="194.3" y="407.56" text-anchor="middle" class="tl">300</text>
<line y1="388.36" y2="393.66" x1="226.1" x2="226.1" stroke="#333333" stroke-width="1.5"/>
<text x="226.1" y="407.56" text-anchor="middle" class="tl">400</text>
<rect x="311.55" y="260.77" width="148.85" height="127.59" fill="#fff"/>
<line x1="311.55" x2="460.4" y1="373.06" y2="373.06" stroke="#ebebeb" stroke-width="0.8"/>
<line x1="311.55" x2="460.4" y1="344.58" y2="344.58" stroke="#ebebeb" stroke-width="0.8"/>
<line x1="311.55" x2="460.4" y1="316.1" y2="316.1" stroke="#ebebeb" stroke-width="0.8"/>
<line x1="311.55" x2="460.4" y1="287.62" y2="287.62" stroke="#ebebeb" stroke-width="0.8"/>
<line y1="260.77" y2="388.36" x1="386" x2="386" stroke="#ebebeb" stroke-width="0.8"/>
<line x1="311.55" x2="460.4" y1="387.3" y2="387.3" stroke="#ebebeb" stroke-width="1.4"/>
<line x1="311.55" x2="460.4" y1="358.82" y2="358.82" stroke="#ebebeb" stroke-width="1.4"/>
<line x1="311.55" x2="460.4" y1="330.34" y2="330.34" stroke="#ebebeb" stroke-width="1.4"/>
<line x1="311.55" x2="460.4" y1="301.86" y2="301.86" stroke="#ebebeb" stroke-width="1.4"/>
<line x1="311.55" x2="460.4" y1="273.38" y2="273.38" stroke="#ebebeb" stroke-width="1.4"/>
<line y1="260.77" y2="388.36" x1="348.2" x2="348.2" stroke="#ebebeb" stroke-width="1.4"/>
<line y1="260.77" y2="388.36" x1="423.7" x2="423.7" stroke="#ebebeb" stroke-width="1.4"/>
<rect x="318" y="328.6" width="60.6" height="38.4" fill="#d9d9d9"/>
<rect x="394.1" y="317.9" width="59.7" height="41.7" fill="#d9d9d9"/>
<circle cx="321.6" cy="266.4" r="2.8"/>
<circle cx="340.4" cy="267.4" r="2.8"/>
<circle cx="341.2" cy="279.4" r="2.8"/>
<circle cx="342.2" cy="289.4" r="2.8"/>
<circle cx="343.9" cy="304.4" r="2.8"/>
<circle cx="337.5" cy="306.8" r="2.8"/>
<circle cx="320.6" cy="310.8" r="2.8"/>
<circle cx="339.4" cy="313.9" r="2.8"/>
<circle cx="342.9" cy="316.5" r="2.8"/>
<circle cx="345" cy="320.3" r="2.8"/>
<circle cx="323.5" cy="323.4" r="2.8"/>
<circle cx="362.8" cy="318.9" r="2.8"/>
<circle cx="377.4" cy="318.6" r="2.8"/>
<circle cx="357.1" cy="326.1" r="2.8"/>
<circle cx="367.4" cy="325.2" r="2.8"/>
<circle cx="335.6" cy="333" r="2.8"/>
<circle cx="328.3" cy="338.1" r="2.8"/>
<circle cx="319.1" cy="342.8" r="2.8"/>
<circle cx="336.6" cy="344.7" r="2.8"/>
<circle cx="352" cy="336.3" r="2.8"/>
<circle cx="353.5" cy="338.8" r="2.8"/>
<circle cx="365.5" cy="337.4" r="2.8"/>
<circle cx="370.3" cy="340.3" r="2.8"/>
<circle cx="366.3" cy="344.7" r="2.8"/>
<circle cx="372.2" cy="345.1" r="2.8"/>
<circle cx="332.2" cy="354.9" r="2.8"/>
<circle cx="338.5" cy="358.3" r="2.8"/>
<circle cx="356.4" cy="356.4" r="2.8"/>
<circle cx="353.5" cy="358.6" r="2.8"/>
<circle cx="352" cy="360.4" r="2.8"/>
<circle cx="368.8" cy="356.4" r="2.8"/>
<circle cx="376.2" cy="356.4" r="2.8"/>
<circle cx="374.2" cy="352" r="2.8"/>
<circle cx="375.4" cy="363" r="2.8"/>
<circle cx="374" cy="365.6" r="2.8"/>
<circle cx="364.4" cy="364.8" r="2.8"/>
<circle cx="354.9" cy="365.9" r="2.8"/>
<circle cx="360" cy="368.1" r="2.8"/>
<circle cx="319.8" cy="366.7" r="2.8"/>
<circle cx="324.9" cy="365.2" r="2.8"/>
<circle cx="329.3" cy="365.6" r="2.8"/>
<circle cx="324.2" cy="371.8" r="2.8"/>
<circle cx="330" cy="371" r="2.8"/>
<circle cx="333" cy="372.5" r="2.8"/>
<circle cx="334.4" cy="374.7" r="2.8"/>
<circle cx="346.1" cy="374" r="2.8"/>
<circle cx="350.5" cy="373.5" r="2.8"/>
<circle cx="349.1" cy="380.6" r="2.8"/>
<circle cx="347.6" cy="377.3" r="2.8"/>
<circle cx="361.5" cy="373.5" r="2.8"/>
<circle cx="359.3" cy="378.4" r="2.8"/>
<circle cx="363.7" cy="381.7" r="2.8"/>
<circle cx="357.9" cy="382.8" r="2.8"/>
<circle cx="371" cy="374" r="2.8"/>
<circle cx="372.5" cy="376.2" r="2.8"/>
<circle cx="327.1" cy="380.6" r="2.8"/>
<circle cx="326.4" cy="382.8" r="2.8"/>
<circle cx="330.8" cy="378.4" r="2.8"/>
<circle cx="394.9" cy="291.5" r="2.8"/>
<circle cx="407.4" cy="296.6" r="2.8"/>
<circle cx="406" cy="301.1" r="2.8"/>
<circle cx="417.3" cy="300.9" r="2.8"/>
<circle cx="397.8" cy="310.6" r="2.8"/>
<circle cx="431.5" cy="295.7" r="2.8"/>
<circle cx="451.2" cy="293.6" r="2.8"/>
<circle cx="433.2" cy="304.7" r="2.8"/>
<circle cx="452.7" cy="304.3" r="2.8"/>
<circle cx="434.4" cy="315.7" r="2.8"/>
<circle cx="449.5" cy="317.9" r="2.8"/>
<circle cx="438.6" cy="322.4" r="2.8"/>
<circle cx="441.7" cy="322.1" r="2.8"/>
<circle cx="445.3" cy="322.4" r="2.8"/>
<circle cx="398.9" cy="328.1" r="2.8"/>
<circle cx="396.4" cy="334" r="2.8"/>
<circle cx="402.6" cy="333.4" r="2.8"/>
<circle cx="405.2" cy="332.5" r="2.8"/>
<circle cx="448.3" cy="338.1" r="2.8"/>
<circle cx="420.1" cy="343.7" r="2.8"/>
<circle cx="400.4" cy="347.6" r="2.8"/>
<circle cx="425.7" cy="348.6" r="2.8"/>
<circle cx="421.6" cy="356.4" r="2.8"/>
<circle cx="424.8" cy="356" r="2.8"/>
<circle cx="403.3" cy="360.4" r="2.8"/>
<circle cx="409.9" cy="360.4" r="2.8"/>
<circle cx="414.3" cy="364.5" r="2.8"/>
<circle cx="412.1" cy="367.4" r="2.8"/>
<circle cx="416.5" cy="365.9" r="2.8"/>
<circle cx="418.7" cy="370.3" r="2.8"/>
<circle cx="423.1" cy="368.9" r="2.8"/>
<circle cx="437" cy="358.3" r="2.8"/>
<circle cx="442.8" cy="358.6" r="2.8"/>
<circle cx="439.9" cy="360.8" r="2.8"/>
<circle cx="435.5" cy="365.9" r="2.8"/>
<circle cx="444.3" cy="365.2" r="2.8"/>
<circle cx="447.2" cy="370.6" r="2.8"/>
<circle cx="427.5" cy="377.3" r="2.8"/>
<circle cx="430.4" cy="376.2" r="2.8"/>
<circle cx="428.6" cy="382.3" r="2.8"/>
<line x1="318" x2="378.6" y1="353" y2="353" stroke="#0a8cff" stroke-width="3.8"/>
<line x1="394.1" x2="453.8" y1="343.5" y2="343.5" stroke="#0a8cff" stroke-width="3.8"/>
<rect x="311.55" y="260.77" width="148.85" height="127.59" fill="none" stroke="#333333" stroke-width="1.3"/>
<line x1="306.05" x2="311.55" y1="387.3" y2="387.3" stroke="#333333" stroke-width="1.5"/>
<text x="303.95" y="391.4" text-anchor="end" class="tl">0</text>
<line x1="306.05" x2="311.55" y1="358.82" y2="358.82" stroke="#333333" stroke-width="1.5"/>
<text x="303.95" y="362.92" text-anchor="end" class="tl">20</text>
<line x1="306.05" x2="311.55" y1="330.34" y2="330.34" stroke="#333333" stroke-width="1.5"/>
<text x="303.95" y="334.44" text-anchor="end" class="tl">40</text>
<line x1="306.05" x2="311.55" y1="301.86" y2="301.86" stroke="#333333" stroke-width="1.5"/>
<text x="303.95" y="305.96" text-anchor="end" class="tl">60</text>
<line x1="306.05" x2="311.55" y1="273.38" y2="273.38" stroke="#333333" stroke-width="1.5"/>
<text x="303.95" y="277.48" text-anchor="end" class="tl">80</text>
<line y1="388.36" y2="393.66" x1="348.2" x2="348.2" stroke="#333333" stroke-width="1.5"/>
<text x="348.2" y="404.66" text-anchor="middle" class="tl">Not applied</text>
<line y1="388.36" y2="393.66" x1="423.7" x2="423.7" stroke="#333333" stroke-width="1.5"/>
<text x="423.7" y="404.66" text-anchor="middle" class="tl">Applied</text>
<rect x="536.05" y="260.77" width="148.55" height="127.59" fill="#fff"/>
<line x1="536.05" x2="684.6" y1="371.45" y2="371.45" stroke="#ebebeb" stroke-width="0.8"/>
<line x1="536.05" x2="684.6" y1="340.75" y2="340.75" stroke="#ebebeb" stroke-width="0.8"/>
<line x1="536.05" x2="684.6" y1="310.05" y2="310.05" stroke="#ebebeb" stroke-width="0.8"/>
<line x1="536.05" x2="684.6" y1="279.35" y2="279.35" stroke="#ebebeb" stroke-width="0.8"/>
<line y1="260.77" y2="388.36" x1="585.8" x2="585.8" stroke="#ebebeb" stroke-width="0.8"/>
<line y1="260.77" y2="388.36" x1="634.4" x2="634.4" stroke="#ebebeb" stroke-width="0.8"/>
<line x1="536.05" x2="684.6" y1="386.8" y2="386.8" stroke="#ebebeb" stroke-width="1.4"/>
<line x1="536.05" x2="684.6" y1="356.1" y2="356.1" stroke="#ebebeb" stroke-width="1.4"/>
<line x1="536.05" x2="684.6" y1="325.4" y2="325.4" stroke="#ebebeb" stroke-width="1.4"/>
<line x1="536.05" x2="684.6" y1="294.7" y2="294.7" stroke="#ebebeb" stroke-width="1.4"/>
<line x1="536.05" x2="684.6" y1="264" y2="264" stroke="#ebebeb" stroke-width="1.4"/>
<line y1="260.77" y2="388.36" x1="561.5" x2="561.5" stroke="#ebebeb" stroke-width="1.4"/>
<line y1="260.77" y2="388.36" x1="610.1" x2="610.1" stroke="#ebebeb" stroke-width="1.4"/>
<line y1="260.77" y2="388.36" x1="658.7" x2="658.7" stroke="#ebebeb" stroke-width="1.4"/>
<rect x="542" y="336.9" width="39.1" height="35.6" fill="#d9d9d9"/>
<rect x="590.7" y="335.7" width="39.1" height="32.8" fill="#d9d9d9"/>
<rect x="639.2" y="320.3" width="38.8" height="48.3" fill="#d9d9d9"/>
<circle cx="609" cy="283.1" r="2.8"/>
<circle cx="609.5" cy="293.6" r="2.8"/>
<circle cx="610.2" cy="302.1" r="2.8"/>
<circle cx="607.3" cy="316.7" r="2.8"/>
<circle cx="610.9" cy="314.6" r="2.8"/>
<circle cx="591.5" cy="321.3" r="2.8"/>
<circle cx="595.3" cy="324.5" r="2.8"/>
<circle cx="608.8" cy="323.1" r="2.8"/>
<circle cx="545.2" cy="331.5" r="2.8"/>
<circle cx="559.2" cy="330.1" r="2.8"/>
<circle cx="562.8" cy="335.9" r="2.8"/>
<circle cx="564.3" cy="334" r="2.8"/>
<circle cx="578.9" cy="334.4" r="2.8"/>
<circle cx="543.8" cy="337.8" r="2.8"/>
<circle cx="546.7" cy="343.7" r="2.8"/>
<circle cx="568.7" cy="339.3" r="2.8"/>
<circle cx="565.5" cy="348.4" r="2.8"/>
<circle cx="566.9" cy="353.9" r="2.8"/>
<circle cx="570.1" cy="359.3" r="2.8"/>
<circle cx="574.2" cy="358.6" r="2.8"/>
<circle cx="577.5" cy="363" r="2.8"/>
<circle cx="575.3" cy="366.7" r="2.8"/>
<circle cx="573.1" cy="369.6" r="2.8"/>
<circle cx="551.4" cy="369.1" r="2.8"/>
<circle cx="553.3" cy="372.5" r="2.8"/>
<circle cx="556.2" cy="375.4" r="2.8"/>
<circle cx="560.6" cy="375.9" r="2.8"/>
<circle cx="554.8" cy="377.6" r="2.8"/>
<circle cx="549.6" cy="379.8" r="2.8"/>
<circle cx="547.9" cy="382" r="2.8"/>
<circle cx="571.6" cy="377.3" r="2.8"/>
<circle cx="593.6" cy="323.5" r="2.8"/>
<circle cx="595" cy="327.9" r="2.8"/>
<circle cx="601.6" cy="330.1" r="2.8"/>
<circle cx="606.7" cy="339.6" r="2.8"/>
<circle cx="603.1" cy="341.8" r="2.8"/>
<circle cx="592.8" cy="346.2" r="2.8"/>
<circle cx="592.8" cy="349.8" r="2.8"/>
<circle cx="606.7" cy="349.1" r="2.8"/>
<circle cx="592.8" cy="367.7" r="2.8"/>
<circle cx="596.5" cy="368.9" r="2.8"/>
<circle cx="599.4" cy="365.2" r="2.8"/>
<circle cx="601.6" cy="367.4" r="2.8"/>
<circle cx="598" cy="372.5" r="2.8"/>
<circle cx="601.6" cy="371.8" r="2.8"/>
<circle cx="596.5" cy="374.7" r="2.8"/>
<circle cx="606" cy="372.5" r="2.8"/>
<circle cx="604.5" cy="377.6" r="2.8"/>
<circle cx="599.4" cy="382.8" r="2.8"/>
<circle cx="607.5" cy="360.8" r="2.8"/>
<circle cx="667.9" cy="266.1" r="2.8"/>
<circle cx="663.7" cy="310.1" r="2.8"/>
<circle cx="655.5" cy="318.6" r="2.8"/>
<circle cx="612.4" cy="328.6" r="2.8"/>
<circle cx="622.3" cy="333.4" r="2.8"/>
<circle cx="624.4" cy="339.3" r="2.8"/>
<circle cx="614.6" cy="341.3" r="2.8"/>
<circle cx="618.2" cy="342.5" r="2.8"/>
<circle cx="616.8" cy="344.7" r="2.8"/>
<circle cx="627.8" cy="345.4" r="2.8"/>
<circle cx="629.2" cy="349.5" r="2.8"/>
<circle cx="621.2" cy="352.7" r="2.8"/>
<circle cx="608.7" cy="349.1" r="2.8"/>
<circle cx="608.7" cy="360.8" r="2.8"/>
<circle cx="616.8" cy="361.5" r="2.8"/>
<circle cx="620.4" cy="360.8" r="2.8"/>
<circle cx="627" cy="360.1" r="2.8"/>
<circle cx="615.3" cy="368.1" r="2.8"/>
<circle cx="619.7" cy="366.7" r="2.8"/>
<circle cx="619" cy="370.3" r="2.8"/>
<circle cx="626.3" cy="366.7" r="2.8"/>
<circle cx="613.1" cy="374.7" r="2.8"/>
<circle cx="620.4" cy="374.7" r="2.8"/>
<circle cx="628.5" cy="374.4" r="2.8"/>
<circle cx="613.9" cy="380.6" r="2.8"/>
<circle cx="623.4" cy="379.1" r="2.8"/>
<circle cx="624.1" cy="382" r="2.8"/>
<circle cx="641.4" cy="326.4" r="2.8"/>
<circle cx="672" cy="337.1" r="2.8"/>
<circle cx="646.4" cy="344" r="2.8"/>
<circle cx="644.6" cy="344.6" r="2.8"/>
<circle cx="643.1" cy="355.4" r="2.8"/>
<circle cx="661.9" cy="356" r="2.8"/>
<circle cx="659.5" cy="361.8" r="2.8"/>
<circle cx="650.5" cy="368.6" r="2.8"/>
<circle cx="653.4" cy="369.6" r="2.8"/>
<circle cx="674.6" cy="372.5" r="2.8"/>
<circle cx="676" cy="373.6" r="2.8"/>
<circle cx="670.2" cy="376.9" r="2.8"/>
<circle cx="665.8" cy="378.4" r="2.8"/>
<circle cx="598.5" cy="369.4" r="2.8"/>
<circle cx="601.6" cy="371.4" r="2.8"/>
<circle cx="597.4" cy="373.5" r="2.8"/>
<circle cx="603.7" cy="366.2" r="2.8"/>
<circle cx="594.3" cy="368.3" r="2.8"/>
<circle cx="619.4" cy="368.3" r="2.8"/>
<circle cx="618.4" cy="371.4" r="2.8"/>
<circle cx="621.5" cy="372.5" r="2.8"/>
<circle cx="624.7" cy="378.8" r="2.8"/>
<circle cx="625.7" cy="381.4" r="2.8"/>
<circle cx="622.6" cy="381.9" r="2.8"/>
<circle cx="626.8" cy="367.3" r="2.8"/>
<line x1="542" x2="581.1" y1="360.1" y2="360.1" stroke="#0a8cff" stroke-width="3.8"/>
<line x1="590.7" x2="629.8" y1="356.8" y2="356.8" stroke="#0a8cff" stroke-width="3.8"/>
<line x1="639.2" x2="678" y1="352" y2="352" stroke="#0a8cff" stroke-width="3.8"/>
<rect x="536.05" y="260.77" width="148.55" height="127.59" fill="none" stroke="#333333" stroke-width="1.3"/>
<line x1="530.55" x2="536.05" y1="386.8" y2="386.8" stroke="#333333" stroke-width="1.5"/>
<text x="528.45" y="390.9" text-anchor="end" class="tl">0</text>
<line x1="530.55" x2="536.05" y1="356.1" y2="356.1" stroke="#333333" stroke-width="1.5"/>
<text x="528.45" y="360.2" text-anchor="end" class="tl">25</text>
<line x1="530.55" x2="536.05" y1="325.4" y2="325.4" stroke="#333333" stroke-width="1.5"/>
<text x="528.45" y="329.5" text-anchor="end" class="tl">50</text>
<line x1="530.55" x2="536.05" y1="294.7" y2="294.7" stroke="#333333" stroke-width="1.5"/>
<text x="528.45" y="298.8" text-anchor="end" class="tl">75</text>
<line x1="530.55" x2="536.05" y1="264" y2="264" stroke="#333333" stroke-width="1.5"/>
<text x="528.45" y="268.1" text-anchor="end" class="tl">100</text>
<line y1="388.36" y2="393.66" x1="561.5" x2="561.5" stroke="#333333" stroke-width="1.5"/>
<text x="561.5" y="407.26" text-anchor="middle" class="tl">0-1</text>
<line y1="388.36" y2="393.66" x1="610.1" x2="610.1" stroke="#333333" stroke-width="1.5"/>
<text x="610.1" y="407.26" text-anchor="middle" class="tl">2-3</text>
<line y1="388.36" y2="393.66" x1="658.7" x2="658.7" stroke="#333333" stroke-width="1.5"/>
<text x="658.7" y="407.26" text-anchor="middle" class="tl">4-6</text>
</g>

<text x="3.4" y="10.3" class="pl">a)</text>
<text x="266.4" y="10.3" class="pl">b)</text>
<text x="484.3" y="10.3" class="pl">c)</text>
<text x="-0.6" y="257.9" class="pl">d)</text>
<text x="266.6" y="257.9" class="pl">e)</text>
<text x="487.7" y="257.8" class="pl">f)</text>
<text x="234.5" y="27.3" text-anchor="end" class="pv">p&gt;0.05</text>
<text x="316.3" y="27.4" class="pv" font-weight="bold" font-size="12.6">p&lt;0.05</text>
<text x="679.5" y="27.3" text-anchor="end" class="pv">p&gt;0.05</text>
<text x="234.6" y="275.5" text-anchor="end" class="pv">p&gt;0.05</text>
<text x="456.7" y="275.6" text-anchor="end" class="pv">p&gt;0.05</text>
<text x="679.5" y="282.4" text-anchor="end" class="pv">p&gt;0.05</text>
<text x="166.9" y="188.6" text-anchor="middle" class="ti">Phylogenetic diversity of</text>
<text x="166.9" y="203.7" text-anchor="middle" class="ti">the crops (past 10 years)</text>
<text x="386.05" y="188.4" text-anchor="middle" class="ti">Proportion of time with</text>
<text x="386.05" y="203.5" text-anchor="middle" class="ti">crop cover (past 10 years)</text>
<text x="610.25" y="188.4" text-anchor="middle" class="ti">Leys in the rotation</text>
<text x="610.25" y="203.3" text-anchor="middle" class="ti">(past 10 years)</text>
<text x="166.8" y="439.2" text-anchor="middle" class="ti">Applied N fertilizer</text>
<text x="166.8" y="455.4" text-anchor="middle" class="ti">(kg N ha<tspan font-size="7.8" dy="-5.2">-1</tspan><tspan dy="5.2">; sampling year)</tspan></text>
<text x="386" y="439.1" text-anchor="middle" class="ti">Organic fertilizer</text>
<text x="386" y="454.3" text-anchor="middle" class="ti">(past 4 years)</text>
<text x="610.3" y="439.0" text-anchor="middle" class="ti">Tillage occurences</text>
<text x="610.3" y="454.6" text-anchor="middle" class="ti">(sampling year)</text>
<g transform="translate(43,82.9) rotate(-90)"><text x="0" y="0" text-anchor="middle" class="ti">Denitrification</text></g>
<g transform="translate(58.7,82.6) rotate(-90)"><text x="0" y="0" text-anchor="middle" class="ti">(ng N<tspan font-size="8.2" dy="2.3">2</tspan><tspan dy="-2.3">O-N g</tspan><tspan font-size="7.8" dy="-5.2">-1</tspan><tspan dy="5.2"> dw min</tspan><tspan font-size="7.8" dy="-5.2">-1</tspan><tspan dy="5.2">)</tspan></text></g>
<g transform="translate(43,332.7) rotate(-90)"><text x="0" y="0" text-anchor="middle" class="ti">Denitrification</text></g>
<g transform="translate(58.7,332.4) rotate(-90)"><text x="0" y="0" text-anchor="middle" class="ti">(ng N<tspan font-size="8.2" dy="2.3">2</tspan><tspan dy="-2.3">O-N g</tspan><tspan font-size="7.8" dy="-5.2">-1</tspan><tspan dy="5.2"> dw min</tspan><tspan font-size="7.8" dy="-5.2">-1</tspan><tspan dy="5.2">)</tspan></text></g>

</svg>
</body></html>
